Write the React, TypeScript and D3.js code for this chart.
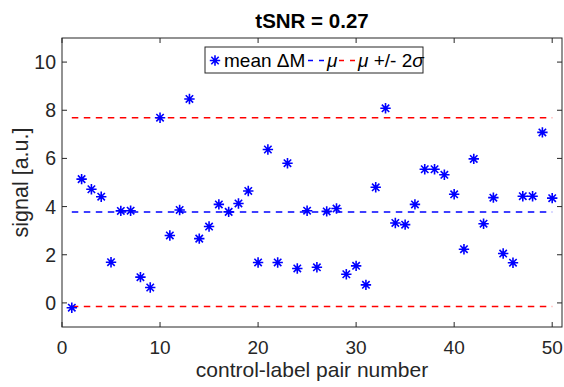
import React from "react";
import * as d3 from "d3";

// control-label pair index and mean ΔM per pair
const pairs = d3.range(1, 51);
const meanDeltaM = [
  -0.2, 5.14, 4.72, 4.41, 1.69, 3.82, 3.83, 1.07, 0.64, 7.69,
  2.8, 3.86, 8.47, 2.67, 3.17, 4.09, 3.78, 4.13, 4.65, 1.68,
  6.37, 1.68, 5.8, 1.43, 3.83, 1.48, 3.8, 3.92, 1.19, 1.54,
  0.75, 4.8, 8.08, 3.32, 3.25, 4.09, 5.55, 5.55, 5.32, 4.51,
  2.23, 5.98, 3.29, 4.37, 2.05, 1.67, 4.43, 4.43, 7.08, 4.35,
];
const mu = 3.78;
const muPlus2Sigma = 7.69;
const muMinus2Sigma = -0.15;

const xTicks = [0, 10, 20, 30, 40, 50];
const yTicks = [0, 2, 4, 6, 8, 10];
const titleText = "tSNR = 0.27";

const W = 564;
const H = 387;
const m = { left: 62, right: 2, top: 38, bottom: 60 };
const axisColor = "#262626";
const font = "'Liberation Sans', Arial, Helvetica, sans-serif";

function Star({ cx, cy, color }: { cx: number; cy: number; color: string }) {
  const r = 5.2;
  const d = 3.7;
  return (
    <path
      d={`M${cx},${cy - r}V${cy + r}M${cx - r},${cy}H${cx + r}M${cx - d},${cy - d}L${cx + d},${cy + d}M${cx - d},${cy + d}L${cx + d},${cy - d}`}
      stroke={color}
      strokeWidth={1.6}
      fill="none"
    />
  );
}

export default function App() {
  const x = d3.scaleLinear().domain([0, 51]).range([m.left, W - m.right]);
  const y = d3.scaleLinear().domain([-1, 11]).range([H - m.bottom, m.top]);
  const x0 = m.left;
  const x1 = W - m.right;
  const y0 = H - m.bottom;
  const y1 = m.top;
  const tick = 5;
  const dash = "6.5 5.5";

  const hline = (v: number, color: string) => (
    <line
      x1={x(1)}
      x2={x(50)}
      y1={y(v)}
      y2={y(v)}
      stroke={color}
      strokeWidth={1.5}
      strokeDasharray={dash}
    />
  );

  return (
    <svg
      width={W}
      height={H}
      style={{ position: "absolute", left: 0, top: 0, background: "#fff" }}
      fontFamily={font}
    >
      <rect x={0} y={0} width={W} height={H} fill="#fff" />
      <text x={(x0 + x1) / 2} y={28} textAnchor="middle" fontSize={20.5} fontWeight="bold" fill="#000">
        {titleText}
      </text>

      {hline(muPlus2Sigma, "#ff0000")}
      {hline(muMinus2Sigma, "#ff0000")}
      {hline(mu, "#0000ff")}

      {pairs.map((p, i) => (
        <Star key={p} cx={x(p)} cy={y(meanDeltaM[i])} color="#0000ff" />
      ))}

      {/* axes box with mirrored ticks */}
      <rect x={x0} y={y1} width={x1 - x0} height={y0 - y1} fill="none" stroke={axisColor} strokeWidth={1} />
      {xTicks.map((t) => (
        <g key={"x" + t}>
          <line x1={x(t)} x2={x(t)} y1={y0} y2={y0 - tick} stroke={axisColor} />
          <line x1={x(t)} x2={x(t)} y1={y1} y2={y1 + tick} stroke={axisColor} />
          <text x={x(t)} y={y0 + 26.5} textAnchor="middle" fontSize={19} fill={axisColor}>
            {t}
          </text>
        </g>
      ))}
      {yTicks.map((t) => (
        <g key={"y" + t}>
          <line x1={x0} x2={x0 + tick} y1={y(t)} y2={y(t)} stroke={axisColor} />
          <line x1={x1} x2={x1 - tick} y1={y(t)} y2={y(t)} stroke={axisColor} />
          <text x={x0 - 6} y={y(t) + 7} textAnchor="end" fontSize={19.5} fill={axisColor}>
            {t}
          </text>
        </g>
      ))}

      <text x={(x0 + x1) / 2} y={376.5} textAnchor="middle" fontSize={21} fill={axisColor}>
        control-label pair number
      </text>
      <text
        transform={`translate(28,${(y0 + y1) / 2}) rotate(-90)`}
        textAnchor="middle"
        fontSize={21.5}
        fill={axisColor}
      >
        signal [a.u.]
      </text>

      {/* legend */}
      <g>
        <rect x={205} y={47} width={218} height={26} fill="#fff" stroke={axisColor} strokeWidth={1} />
        <Star cx={215} cy={60.5} color="#0000ff" />
        <text x={224} y={67} fontSize={19} fill="#000">mean ΔM</text>
        <line x1={308} x2={325} y1={60.5} y2={60.5} stroke="#0000ff" strokeWidth={1.5} strokeDasharray="5 6" />
        <text x={327} y={67} fontSize={19} fill="#000" fontStyle="italic">μ</text>
        <line x1={339} x2={356} y1={60.5} y2={60.5} stroke="#ff0000" strokeWidth={1.5} strokeDasharray="5 6" />
        <text x={358} y={67} fontSize={19} fill="#000">
          <tspan fontStyle="italic">μ</tspan>
          <tspan> +/- 2</tspan>
          <tspan fontStyle="italic">σ</tspan>
        </text>
      </g>
    </svg>
  );
}
